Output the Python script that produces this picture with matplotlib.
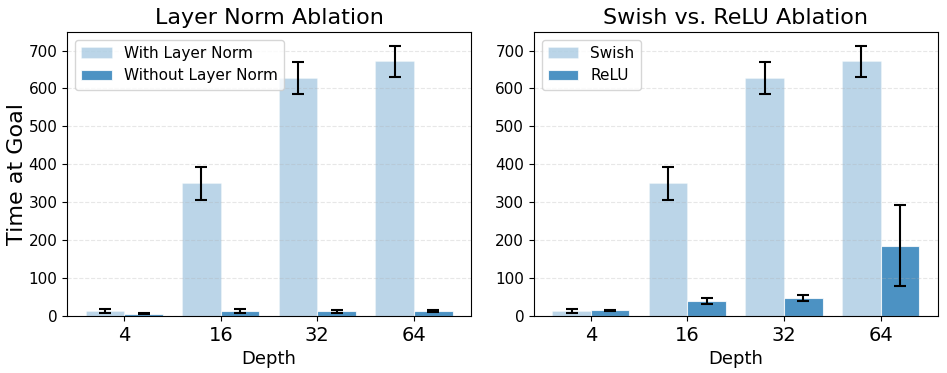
import numpy as np
import matplotlib
matplotlib.use("Agg")
import matplotlib.pyplot as plt

# ---- data ----
depths = ["4", "16", "32", "64"]

ln_with_mean = [13, 350, 628, 672]
ln_with_err = [4, 44, 42, 41]
ln_without_mean = [6, 13, 12, 13]
ln_without_err = [1, 5, 4, 3]

swish_mean = [13, 350, 628, 672]
swish_err = [4, 44, 42, 41]
relu_mean = [15, 39, 47, 185]
relu_err = [1, 7, 7, 107]

panels = [
    ("Layer Norm Ablation", ("With Layer Norm", ln_with_mean, ln_with_err),
     ("Without Layer Norm", ln_without_mean, ln_without_err)),
    ("Swish vs. ReLU Ablation", ("Swish", swish_mean, swish_err),
     ("ReLU", relu_mean, relu_err)),
]

fig, axes = plt.subplots(1, 2, figsize=(9.47, 3.73), dpi=100)
fig.subplots_adjust(left=0.071, right=0.99, top=0.914, bottom=0.153, wspace=0.156)

x = np.arange(len(depths))
w = 0.4
ekw = dict(elinewidth=1.5, capthick=1.5, ecolor="black")
for ax, (title, a, b) in zip(axes, panels):
    ax.bar(x - w / 2, a[1], w, yerr=a[2], capsize=4, color="tab:blue", alpha=0.3,
           edgecolor="white", linewidth=0.8, label=a[0], error_kw=ekw)
    ax.bar(x + w / 2, b[1], w, yerr=b[2], capsize=4, color="tab:blue", alpha=0.8,
           edgecolor="white", linewidth=0.8, label=b[0], error_kw=ekw)
    ax.set_xticks(x)
    ax.set_xticklabels(depths, fontsize=14)
    ax.tick_params(axis="y", labelsize=11)
    ax.set_xlabel("Depth", fontsize=13)
    ax.set_title(title, fontsize=16)
    ax.grid(axis="y", linestyle="--", alpha=0.3)
    ax.legend(loc="upper left", fontsize=11)

axes[0].set_ylabel("Time at Goal", fontsize=16, labelpad=1)

fig.savefig("out.png")
